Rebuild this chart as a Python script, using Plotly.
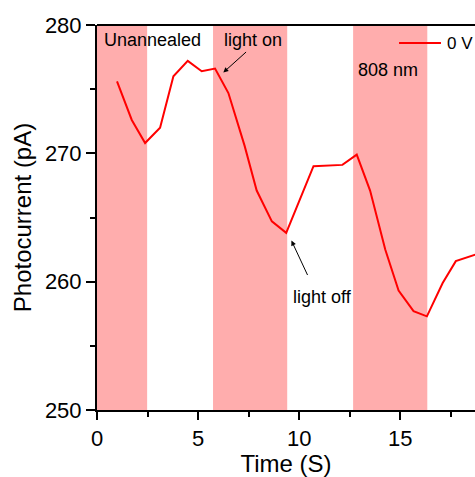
import plotly.graph_objects as go

time_s = [0.99, 1.72, 2.38, 3.12, 3.78, 4.49, 5.18, 5.84, 6.5, 7.3, 7.9, 8.65, 9.36,
          10.71, 12.14, 12.85, 13.51, 14.26, 14.92, 15.66, 16.32, 17.1, 17.75, 18.71, 19.4]
current_pA = [275.6, 272.6, 270.8, 272.0, 276.0, 277.2, 276.4, 276.6, 274.7, 270.6, 267.1, 264.7, 263.8,
              269.0, 269.1, 269.9, 267.1, 262.5, 259.3, 257.7, 257.3, 259.9, 261.6, 262.1, 262.3]
light_on_intervals = [(0, 2.48), (5.74, 9.41), (12.67, 16.34)]
series_name = "0 V"

fig = go.Figure()
for a, b in light_on_intervals:
    fig.add_vrect(x0=a, x1=b, fillcolor="#FFADAD", opacity=1, line_width=0, layer="below")

fig.add_trace(go.Scatter(x=time_s, y=current_pA, mode="lines", name=series_name,
                         line=dict(color="#FF0000", width=2), showlegend=False))

font_family = "Liberation Sans, Arial, sans-serif"
fig.update_layout(
    width=475, height=477,
    margin=dict(l=97, r=0, t=25, b=67),
    plot_bgcolor="white", paper_bgcolor="white",
    font=dict(family=font_family, color="black"),
    showlegend=False,
    xaxis=dict(range=[0, 18.7], tickvals=[0, 5, 10, 15], showgrid=False, zeroline=False,
               showline=True, linecolor="black", linewidth=2, ticks="outside", ticklen=8,
               tickwidth=2, tickcolor="black", tickfont=dict(size=22),
               minor=dict(tickvals=[2.5, 7.5, 12.5, 17.5], ticks="outside", ticklen=5, tickwidth=2, tickcolor="black"),
               title=dict(text="Time (S)", font=dict(size=24), standoff=0)),
    yaxis=dict(range=[250, 280], tickvals=[250, 260, 270, 280], showgrid=False, zeroline=False,
               showline=True, linecolor="black", linewidth=2, ticks="outside", ticklen=9,
               tickwidth=2, tickcolor="black", tickfont=dict(size=22),
               minor=dict(tickvals=[255, 265, 275], ticks="outside", ticklen=5, tickwidth=2, tickcolor="black"),
               title=dict(text="Photocurrent (pA)", font=dict(size=24), standoff=6)),
)
fig.add_shape(type="line", xref="paper", yref="paper", x0=0, x1=1, y0=1, y1=1,
              line=dict(color="black", width=2))

# legend drawn manually
fig.add_shape(type="line", xref="paper", yref="paper", x0=0.799, x1=0.910, y0=0.953, y1=0.953,
              line=dict(color="#FF0000", width=2))
fig.add_annotation(xref="paper", yref="paper", x=0.92, y=0.953, text=series_name, showarrow=False,
                   xanchor="left", yanchor="middle", font=dict(size=17, family=font_family))

fig.add_annotation(x=0.25, y=278.8, text="Unannealed", showarrow=False, xanchor="left",
                   font=dict(size=18, family=font_family))
fig.add_annotation(x=6.25, y=276.3, ax=7.45, ay=278.0, axref="x", ayref="y", text="",
                   showarrow=True, arrowhead=2, arrowsize=1, arrowwidth=1, arrowcolor="black",
                   standoff=0)
fig.add_annotation(x=7.72, y=278.8, text="light on", showarrow=False,
                   font=dict(size=18, family=font_family))
fig.add_annotation(x=14.4, y=276.5, text="808 nm", showarrow=False,
                   font=dict(size=18, family=font_family))
fig.add_annotation(x=9.62, y=263.2, ax=10.45, ay=260.4, axref="x", ayref="y", text="",
                   showarrow=True, arrowhead=2, arrowsize=1, arrowwidth=1, arrowcolor="black",
                   standoff=0)
fig.add_annotation(x=11.14, y=258.8, text="light off", showarrow=False,
                   font=dict(size=18, family=font_family))

fig.write_html("out.html")
